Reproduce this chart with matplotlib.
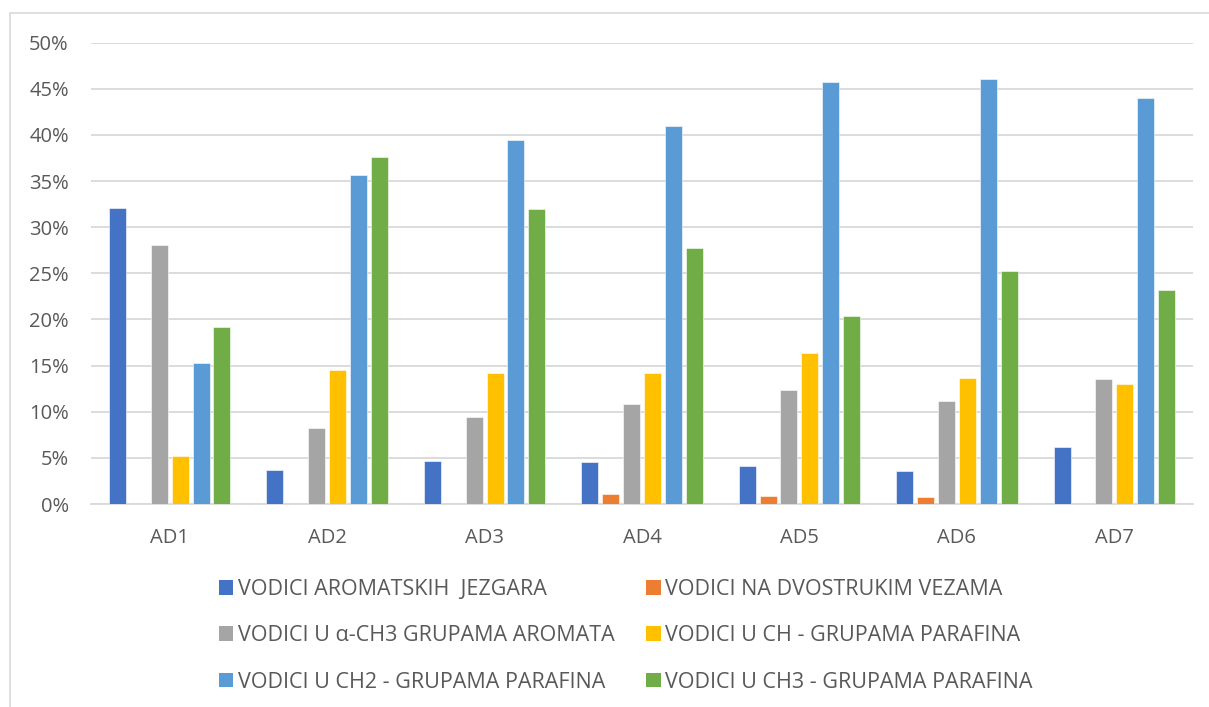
import matplotlib
matplotlib.use("Agg")
import matplotlib.pyplot as plt
import numpy as np
from matplotlib.patches import Rectangle, Patch
from matplotlib.ticker import FuncFormatter

categories = ["AD1", "AD2", "AD3", "AD4", "AD5", "AD6", "AD7"]
series_names = [
    "VODICI AROMATSKIH  JEZGARA",
    "VODICI NA DVOSTRUKIM VEZAMA",
    "VODICI U \u03b1-CH3 GRUPAMA AROMATA",
    "VODICI U CH - GRUPAMA PARAFINA",
    "VODICI U CH2 - GRUPAMA PARAFINA",
    "VODICI U CH3 - GRUPAMA PARAFINA",
]
aromatskih = [32.1, 3.7, 4.7, 4.6, 4.1, 3.6, 6.15]
dvostrukim = [0.0, 0.0, 0.0, 1.13, 0.92, 0.8, 0.0]
alpha_ch3 = [28.1, 8.24, 9.48, 10.87, 12.37, 11.13, 13.54]
ch = [5.23, 14.53, 14.2, 14.2, 16.32, 13.69, 13.03]
ch2 = [15.3, 35.69, 39.46, 40.96, 45.72, 46.08, 44.0]
ch3 = [19.14, 37.66, 31.99, 27.78, 20.35, 25.29, 23.17]
yticks = [0, 5, 10, 15, 20, 25, 30, 35, 40, 45, 50]

series = [aromatskih, dvostrukim, alpha_ch3, ch, ch2, ch3]
colors = ["#4472C4", "#ED7D31", "#A5A5A5", "#FFC000", "#5B9BD5", "#70AD47"]

plt.rcParams['font.family'] = ['Open Sans', 'DejaVu Sans']
txt_color = "#595959"
grid_color = "#D9D9D9"

W, H = 1209, 707
fig = plt.figure(figsize=(W / 100, H / 100), dpi=100)
fig.patch.set_facecolor("white")

left, right = 91, 1193
top, bottom = 42.7, 504
ax = fig.add_axes([left / W, 1 - bottom / H, (right - left) / W, (bottom - top) / H])

# outer chart frame (left and top edges visible)
fig.add_artist(Rectangle((9.5 / W, -0.05), 1.2, 1.05 - 13.3 / H,
                         transform=fig.transFigure, fill=False,
                         edgecolor=grid_color, linewidth=1.2))

x = np.arange(len(categories))
pitch = 0.1328
bw = 0.108
for i, (vals, col) in enumerate(zip(series, colors)):
    offs = (i - 2.5) * pitch
    ax.bar(x + offs, vals, width=bw, color=col, edgecolor="white",
           linewidth=0.4, zorder=3)

ax.set_xlim(-0.5, len(categories) - 0.5)
ax.set_ylim(0, 50)
ax.set_yticks(yticks)
ax.yaxis.set_major_formatter(FuncFormatter(lambda v, p: f"{int(v)}%"))
ax.set_xticks(x)
ax.set_xticklabels(categories)
ax.grid(axis="y", color=grid_color, linewidth=1.3, zorder=0)
ax.set_axisbelow(True)
for s in ["top", "right", "left"]:
    ax.spines[s].set_visible(False)
ax.spines["bottom"].set_color(grid_color)
ax.spines["bottom"].set_linewidth(1.3)
ax.tick_params(axis="both", length=0, labelsize=14.5, colors=txt_color)
ax.tick_params(axis="y", pad=16)
ax.tick_params(axis="x", pad=17)

handles = [Patch(facecolor=c, edgecolor="none") for c in colors]
order = [0, 2, 4, 1, 3, 5]
leg = fig.legend([handles[i] for i in order], [series_names[i] for i in order],
                 ncol=2, loc="upper left",
                 bbox_to_anchor=(208 / W, 1 - 568 / H),
                 frameon=False, fontsize=15.5, labelcolor=txt_color,
                 handlelength=0.68, handleheight=0.68, handletextpad=0.22,
                 columnspacing=1.45, labelspacing=1.18, borderpad=0)

fig.savefig("out.png", dpi=100, facecolor="white")
